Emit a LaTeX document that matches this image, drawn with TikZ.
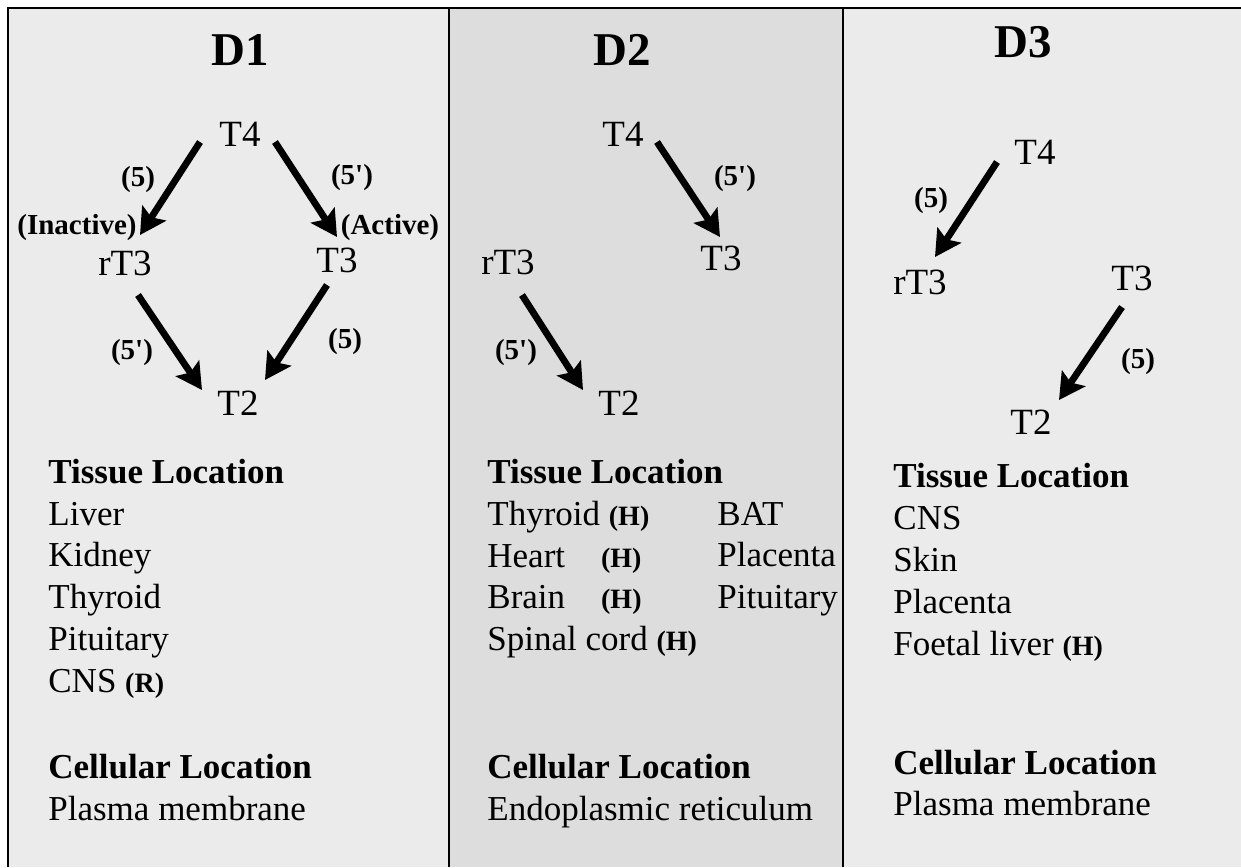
\documentclass[tikz,border=0pt]{standalone}
\usepackage{fontspec}
\setmainfont{Liberation Serif}
\usepackage{tikz}
\usetikzlibrary{arrows.meta}
\definecolor{sidegray}{RGB}{235,235,235}
\definecolor{midgray}{RGB}{221,221,221}
\newcommand{\tagb}[1]{{\fontsize{14}{16}\selectfont\bfseries #1}}

\begin{document}
\begin{tikzpicture}[x=0.5pt,y=-0.5pt,>={Stealth[length=13pt,width=14pt,inset=2.5pt]}]
		\tikzstyle{every node}=[inner sep=0pt]
		\tikzstyle{title}=[font=\fontsize{23.5}{26}\selectfont\bfseries]
		\tikzstyle{hormone}=[font=\fontsize{18.5}{22}\selectfont]
		\tikzstyle{enz}=[font=\fontsize{14.5}{17}\selectfont\bfseries]
		\tikzstyle{head}=[anchor=base west,font=\fontsize{17.5}{21}\selectfont\bfseries]
		\tikzstyle{item}=[anchor=base west,font=\fontsize{17.5}{21}\selectfont]
		\tikzstyle{conv}=[->,line width=3.4pt]
		
		% panels
		\useasboundingbox (0,0) rectangle (1241,867);
		\fill[white] (0,0) rectangle (1241,867);
		\fill[sidegray] (7.5,7.5) rectangle (449,867);
		\fill[midgray] (449,7.5) rectangle (843,867);
		\fill[sidegray] (843,7.5) rectangle (1241,867);
		\draw[line width=1pt] (7.5,867) -- (7.5,7.5) -- (1241,7.5);
		\draw[line width=1pt] (449,7.5) -- (449,867);
		\draw[line width=1pt] (843,7.5) -- (843,867);
		
		% D1
		\node[title]   (d1)   at (240,50)  {D1};
		\node[hormone] (t4a)  at (240,134) {T4};
		\node[hormone] (rt3a) at (125,263) {rT3};
		\node[hormone] (t3a)  at (337,260) {T3};
		\node[hormone] (t2a)  at (238,403) {T2};
		
		\draw[conv] ([shift={(-40,8)}]t4a.center) -- ([shift={(15,-28)}]rt3a.center);
		\draw[conv] ([shift={(35,8)}]t4a.center) -- ([shift={(0,-23)}]t3a.center);
		\draw[conv] ([shift={(13,32)}]rt3a.center) -- ([shift={(-36,-13)}]t2a.center);
		\draw[conv] ([shift={(-10,25)}]t3a.center) -- ([shift={(27,-23)}]t2a.center);
		
		\node[enz] (e1a) at (138,180) {(5)};
		\node[enz] (e2a) at (352,178) {(5\textquotesingle)};
		\node[enz] (ina) at (77,228)  {(Inactive)};
		\node[enz] (aca) at (390,228) {(Active)};
		\node[enz] (e3a) at (132,353) {(5\textquotesingle)};
		\node[enz] (e4a) at (345,342) {(5)};
		
		\node[head] (tisa) at (48,483) {Tissue Location};
		\foreach \t [count=\i from 0] in {Liver,Kidney,Thyroid,Pituitary,{CNS \tagb{(R)}}}
			\node[item] (tisa\i) at (48,525+41.8*\i) {\t};
		\node[head] (cela) at (48,778) {Cellular Location};
		\node[item] (pma)  at (48,820) {Plasma membrane};
		
		% D2
		\node[title]   (d2)   at (622,50)  {D2};
		\node[hormone] (t4b)  at (623,134) {T4};
		\node[hormone] (t3b)  at (721,258) {T3};
		\node[hormone] (rt3b) at (508,262) {rT3};
		\node[hormone] (t2b)  at (619,403) {T2};
		
		\draw[conv] ([shift={(34,8)}]t4b.center) -- ([shift={(-1,-21)}]t3b.center);
		\draw[conv] ([shift={(14,33)}]rt3b.center) -- ([shift={(-36,-13)}]t2b.center);
		
		\node[enz] (e1b) at (735,179) {(5\textquotesingle)};
		\node[enz] (e2b) at (516,353) {(5\textquotesingle)};
		
		\node[head] (tisb) at (487,483) {Tissue Location};
		\node[item] (tisb0) at (487,525) {Thyroid \tagb{(H)}};
		\node[item] (tisb1) at (487,567) {Heart\hspace{18pt}\tagb{(H)}};
		\node[item] (tisb2) at (487,608) {Brain\hspace{18pt}\tagb{(H)}};
		\node[item] (tisb3) at (487,650) {Spinal cord \tagb{(H)}};
		\foreach \t [count=\i from 0] in {BAT,Placenta,Pituitary}
			\node[item] (tisr\i) at (717,525+41.7*\i) {\t};
		\node[head] (celb) at (487,778) {Cellular Location};
		\node[item] (erb)  at (487,820) {Endoplasmic reticulum};
		
		% D3
		\node[title]   (d3)   at (1023,42)  {D3};
		\node[hormone] (t4c)  at (1035,152) {T4};
		\node[hormone] (rt3c) at (920,282)  {rT3};
		\node[hormone] (t3c)  at (1132,278) {T3};
		\node[hormone] (t2c)  at (1031,422) {T2};
		
		\draw[conv] ([shift={(-38,10)}]t4c.center) -- ([shift={(15,-25)}]rt3c.center);
		\draw[conv] ([shift={(-10,29)}]t3c.center) -- ([shift={(28,-22)}]t2c.center);
		
		\node[enz] (e1c) at (931,201)  {(5)};
		\node[enz] (e2c) at (1138,362) {(5)};
		
		\node[head] (tisc) at (893,487) {Tissue Location};
		\foreach \t [count=\i from 0] in {CNS,Skin,Placenta,{Foetal liver \tagb{(H)}}}
			\node[item] (tisc\i) at (893,529+42*\i) {\t};
		\node[head] (celc) at (893,774) {Cellular Location};
		\node[item] (pmc)  at (893,815) {Plasma membrane};
\end{tikzpicture}
\end{document}
